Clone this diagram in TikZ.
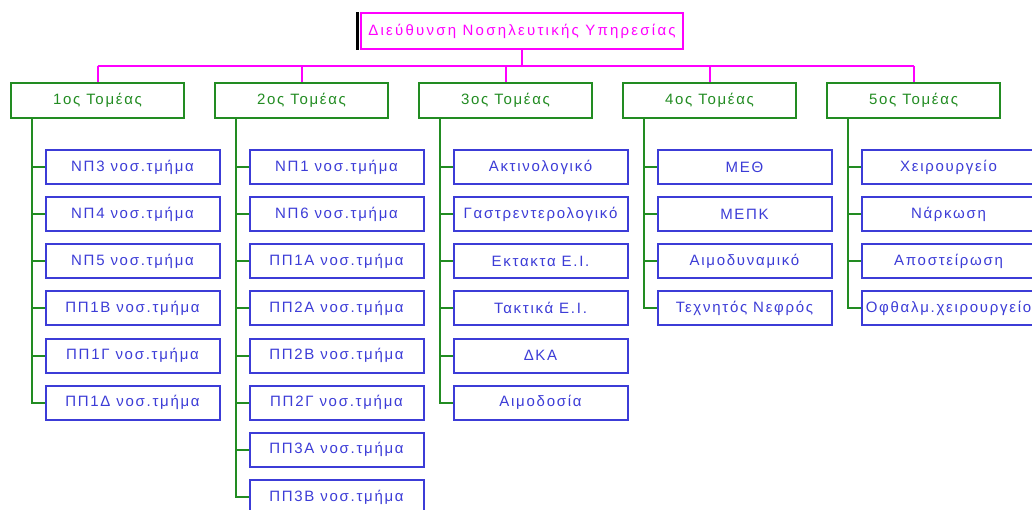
\documentclass[tikz,border=0pt]{standalone}
\usepackage{fontspec}
\usetikzlibrary{calc}
\newfontfamily\lsp[LetterSpace=11.5]{Liberation Sans}
\newfontfamily\lspw[LetterSpace=15]{Liberation Sans}
\definecolor{mag}{RGB}{255,0,255}
\definecolor{grn}{RGB}{34,140,34}
\definecolor{blu}{RGB}{60,60,215}
\tikzset{
  x=1pt, y=-1pt,
  topbox/.style={draw=mag, text=mag, line width=2pt, minimum width=322, minimum height=36, inner sep=0pt, font=\lspw\fontsize{15}{17}\selectfont},
  secbox/.style={draw=grn, text=grn, line width=2pt, minimum width=173, minimum height=35, inner sep=0pt, font=\lsp\fontsize{15}{17}\selectfont},
  chbox/.style={draw=blu, text=blu, line width=2pt, minimum width=174, minimum height=34, inner sep=0pt, font=\lsp\fontsize{15}{17}\selectfont},
  mline/.style={draw=mag, line width=2pt},
  gline/.style={draw=grn, line width=2pt},
}
\begin{document}
\begin{tikzpicture}
\clip (0,0) rectangle (1032,510);
\fill[white] (0,0) rectangle (1032,510);
\node[topbox] (top) at (522,31) {Διεύθυνση Νοσηλευτικής Υπηρεσίας};
\draw[black, line width=2.6pt] ($(top.north west)+(-2.3,0.5)$) coordinate (bk1) -- ($(top.south west)+(-2.3,0.5)$) coordinate (bk2);
\coordinate (bus) at (522,66);
\foreach \i/\t in {1/1ος Τομέας, 2/2ος Τομέας, 3/3ος Τομέας, 4/4ος Τομέας, 5/5ος Τομέας}{
  \node[secbox] (s\i) at ({97.5+204*(\i-1)},100.5) {\t};
}
\draw[mline] (top.south) -- (top.south |- bus);
\draw[mline] (s1.north |- bus) -- (s5.north |- bus);
\foreach \i in {1,...,5}{ \draw[mline] (s\i.north |- bus) -- (s\i.north); }
\foreach \i/\lst in {
  1/{ΝΠ3 νοσ.τμήμα,ΝΠ4 νοσ.τμήμα,ΝΠ5 νοσ.τμήμα,ΠΠ1Β νοσ.τμήμα,ΠΠ1Γ νοσ.τμήμα,ΠΠ1Δ νοσ.τμήμα},
  2/{ΝΠ1 νοσ.τμήμα,ΝΠ6 νοσ.τμήμα,ΠΠ1Α νοσ.τμήμα,ΠΠ2Α νοσ.τμήμα,ΠΠ2Β νοσ.τμήμα,ΠΠ2Γ νοσ.τμήμα,ΠΠ3Α νοσ.τμήμα,ΠΠ3Β νοσ.τμήμα},
  3/{Ακτινολογικό,Γαστρεντερολογικό,Εκτακτα Ε.Ι.,Τακτικά Ε.Ι.,ΔΚΑ,Αιμοδοσία},
  4/{ΜΕΘ,ΜΕΠΚ,Αιμοδυναμικό,Τεχνητός Νεφρός},
  5/{Χειρουργείο,Νάρκωση,Αποστείρωση,Οφθαλμ.χειρουργείο}}{
  \foreach \t [count=\j] in \lst {
    \node[chbox] (c\i-\j) at ({132.5+204*(\i-1)},{167+47.14*(\j-1)}) {\t};
    \draw[gline] ($(s\i.south west)+(21.5,0)$) |- (c\i-\j.west);
  }
}
\end{tikzpicture}
\end{document}
